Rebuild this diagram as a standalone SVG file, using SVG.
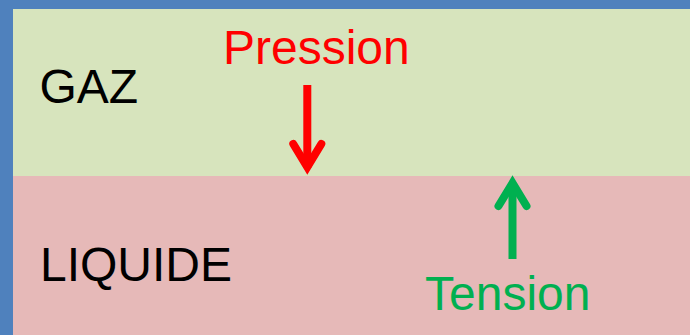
<svg xmlns="http://www.w3.org/2000/svg" width="690" height="335" viewBox="0 0 690 335">
<style>
.lbl{font-family:"Liberation Sans",Arial,sans-serif;font-size:48px}
.arr{fill:none;stroke-width:8}
</style>
<rect x="0" y="0" width="690" height="335" fill="#4F81BD"/>
<g id="gaz">
<rect x="13" y="9" width="677" height="167" fill="#D7E4BD"/>
<text class="lbl" x="39.5" y="103" fill="#000">GAZ</text>
</g>
<g id="liquide">
<rect x="13" y="176" width="677" height="159" fill="#E6B9B8"/>
<text class="lbl" x="40" y="281" fill="#000">LIQUIDE</text>
</g>
<g id="pression">
<text class="lbl" x="223" y="63.5" fill="#FF0000">Pression</text>
</g>
<g id="tension">
<text class="lbl" x="425" y="309.5" fill="#00B050">Tension</text>
</g>
<g id="connectors">
<g stroke="#FF0000" class="arr">
<line x1="307.3" y1="85" x2="307.3" y2="168"/>
<polyline points="293.3,144 307.3,167 321.3,144" stroke-linecap="round" stroke-linejoin="miter"/>
</g>
<g stroke="#00B050" class="arr">
<line x1="512.5" y1="259" x2="512.5" y2="183"/>
<polyline points="498.5,206 512.5,183 526.5,206" stroke-linecap="round" stroke-linejoin="miter"/>
</g>
</g>
</svg>
